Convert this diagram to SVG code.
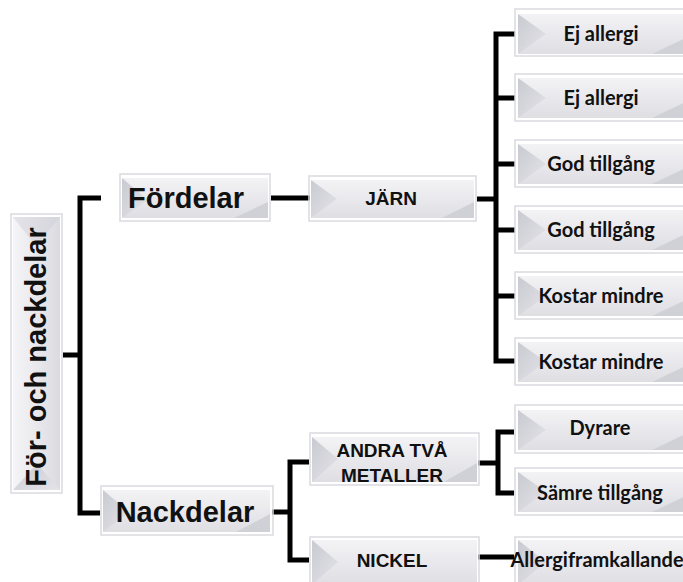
<svg xmlns="http://www.w3.org/2000/svg" width="683" height="582" viewBox="0 0 683 582">
  <defs>
    <linearGradient id="bodyFill" x1="0" y1="0" x2="0" y2="1">
      <stop offset="0" stop-color="#f3f3f5"/>
      <stop offset="0.5" stop-color="#e9e9ed"/>
      <stop offset="1" stop-color="#dedee3"/>
    </linearGradient>
    <linearGradient id="bevelL" x1="0" y1="0" x2="1" y2="1">
      <stop offset="0" stop-color="#c9c9d1"/>
      <stop offset="1" stop-color="#e4e4e9"/>
    </linearGradient>
    <linearGradient id="bodyFillV" x1="0" y1="0" x2="1" y2="0">
      <stop offset="0" stop-color="#f5f5f8"/>
      <stop offset="0.5" stop-color="#e9e9ed"/>
      <stop offset="1" stop-color="#dadae0"/>
    </linearGradient>
    <style>
      .frame { fill: none; stroke: #dadae0; stroke-width: 1.5; }
      .body { fill: url(#bodyFill); }
      .bl { fill: url(#bevelL); }
      .br { fill: #d0d0d7; }
      .wire { fill: none; stroke: #000; stroke-width: 5; stroke-linejoin: miter; stroke-linecap: butt; }
      .big { font-family: "Liberation Sans", Arial, sans-serif; font-weight: bold; font-size: 29px; fill: #111; text-anchor: middle; }
      .mid { font-family: "Liberation Sans", Arial, sans-serif; font-weight: bold; font-size: 19px; fill: #111; text-anchor: middle; }
      .leaf { font-family: Lato, "Noto Sans", sans-serif; font-weight: bold; font-size: 20px; fill: #111; text-anchor: middle; }
    </style>
  </defs>

  <rect width="683" height="582" fill="#fff"/>

  <!-- connectors -->
  <g id="connectors">
    <path class="wire" d="M63 355 H80"/>
    <path class="wire" d="M101 198 H80 V513 H100"/>
    <path class="wire" d="M271 198 H310"/>
    <path class="wire" d="M477 199 H496"/>
    <path class="wire" d="M515 34 H496 V361 H515"/>
    <path class="wire" d="M496 98 H515 M496 164 H515 M496 230 H515 M496 296 H515"/>
    <path class="wire" d="M272 512 H290"/>
    <path class="wire" d="M309 462 H290 V560 H309"/>
    <path class="wire" d="M478 463 H498"/>
    <path class="wire" d="M514 432 H498 V493 H514"/>
    <path class="wire" d="M478 557 H514"/>
  </g>

  <!-- root (vertical) -->
  <g id="root">
    <rect class="frame" x="11" y="214" width="51" height="279"/>
    <rect x="13" y="217" width="47" height="273" fill="url(#bodyFillV)"/>
    <polygon class="bl" points="13,490 37,464 60,490"/>
    <polygon class="br" points="13,217 60,217 36,246" opacity="0.5"/>
    <text class="big" font-size="27" transform="translate(46 357) rotate(-90)">För- och nackdelar</text>
  </g>

  <!-- Fördelar -->
  <g id="fordelar">
    <rect class="frame" x="120" y="174" width="150" height="47"/>
    <rect class="body" x="122" y="178" width="146" height="40"/>
    <polygon class="bl" points="122,178 148,200 122,218"/>
    <polygon class="br" points="234,218 268,218 268,202"/>
    <text class="big" x="186" y="208">Fördelar</text>
  </g>

  <!-- Nackdelar -->
  <g id="nackdelar">
    <rect class="frame" x="101" y="486" width="172" height="49"/>
    <rect class="body" x="103" y="490" width="167" height="42"/>
    <polygon class="bl" points="103,490 129,512 103,532"/>
    <polygon class="br" points="236,532 270,532 270,514"/>
    <text class="big" x="185" y="522">Nackdelar</text>
  </g>

  <!-- JÄRN -->
  <g id="jarn">
    <rect class="frame" x="309" y="176" width="167" height="45"/>
    <rect class="body" x="311" y="180" width="163" height="38"/>
    <polygon class="bl" points="311,180 337,199 311,218"/>
    <polygon class="br" points="442,218 474,218 474,202"/>
    <text class="mid" x="391" y="205">JÄRN</text>
  </g>

  <!-- ANDRA TVÅ METALLER -->
  <g id="andra">
    <rect class="frame" x="310" y="433" width="169" height="52"/>
    <rect class="body" x="312" y="437" width="165" height="45"/>
    <polygon class="bl" points="312,437 338,459 312,482"/>
    <polygon class="br" points="444,482 477,482 477,463"/>
    <text class="mid" x="392" y="457" font-size="20">ANDRA TVÅ</text>
    <text class="mid" x="392" y="482" font-size="20">METALLER</text>
  </g>

  <!-- NICKEL -->
  <g id="nickel">
    <rect class="frame" x="310" y="537" width="169" height="52"/>
    <rect class="body" x="312" y="540" width="165" height="45"/>
    <polygon class="bl" points="312,540 338,562 312,585"/>
    <text class="mid" x="392" y="567">NICKEL</text>
  </g>

  <!-- JÄRN leaves -->
  <g id="leaf1">
    <rect class="frame" x="515" y="9" width="175" height="47"/>
    <rect class="body" x="518" y="14" width="170" height="40"/>
    <polygon class="bl" points="518,14 546,34 518,54"/>
    <polygon class="br" points="652,54 690,54 690,36"/>
    <text class="leaf" x="601" y="41">Ej allergi</text>
  </g>
  <g id="leaf2">
    <rect class="frame" x="515" y="74" width="175" height="47"/>
    <rect class="body" x="518" y="78" width="170" height="40"/>
    <polygon class="bl" points="518,78 546,98 518,118"/>
    <polygon class="br" points="652,118 690,118 690,100"/>
    <text class="leaf" x="601" y="105">Ej allergi</text>
  </g>
  <g id="leaf3">
    <rect class="frame" x="515" y="140" width="175" height="47"/>
    <rect class="body" x="518" y="144" width="170" height="40"/>
    <polygon class="bl" points="518,144 546,164 518,184"/>
    <polygon class="br" points="652,184 690,184 690,166"/>
    <text class="leaf" x="601" y="171">God tillgång</text>
  </g>
  <g id="leaf4">
    <rect class="frame" x="515" y="206" width="175" height="47"/>
    <rect class="body" x="518" y="210" width="170" height="40"/>
    <polygon class="bl" points="518,210 546,230 518,250"/>
    <polygon class="br" points="652,250 690,250 690,232"/>
    <text class="leaf" x="601" y="237">God tillgång</text>
  </g>
  <g id="leaf5">
    <rect class="frame" x="515" y="272" width="175" height="47"/>
    <rect class="body" x="518" y="276" width="170" height="40"/>
    <polygon class="bl" points="518,276 546,296 518,316"/>
    <polygon class="br" points="652,316 690,316 690,298"/>
    <text class="leaf" x="601" y="303">Kostar mindre</text>
  </g>
  <g id="leaf6">
    <rect class="frame" x="515" y="338" width="175" height="47"/>
    <rect class="body" x="518" y="342" width="170" height="40"/>
    <polygon class="bl" points="518,342 546,362 518,382"/>
    <polygon class="br" points="652,382 690,382 690,364"/>
    <text class="leaf" x="601" y="369">Kostar mindre</text>
  </g>

  <!-- metal leaves -->
  <g id="dyrare">
    <rect class="frame" x="515" y="405" width="175" height="48"/>
    <rect class="body" x="518" y="410" width="170" height="40"/>
    <polygon class="bl" points="518,410 546,430 518,450"/>
    <polygon class="br" points="652,450 690,450 690,432"/>
    <text class="leaf" x="600" y="435">Dyrare</text>
  </g>
  <g id="samre">
    <rect class="frame" x="515" y="468" width="175" height="47"/>
    <rect class="body" x="518" y="472" width="170" height="40"/>
    <polygon class="bl" points="518,472 546,492 518,512"/>
    <polygon class="br" points="652,512 690,512 690,494"/>
    <text class="leaf" x="600" y="500">Sämre tillgång</text>
  </g>
  <g id="allergi">
    <rect class="frame" x="515" y="537" width="175" height="52"/>
    <rect class="body" x="518" y="540" width="170" height="45"/>
    <polygon class="bl" points="518,540 546,562 518,585"/>
    <text class="leaf" x="597" y="567" font-size="18">Allergiframkallande</text>
  </g>
</svg>
